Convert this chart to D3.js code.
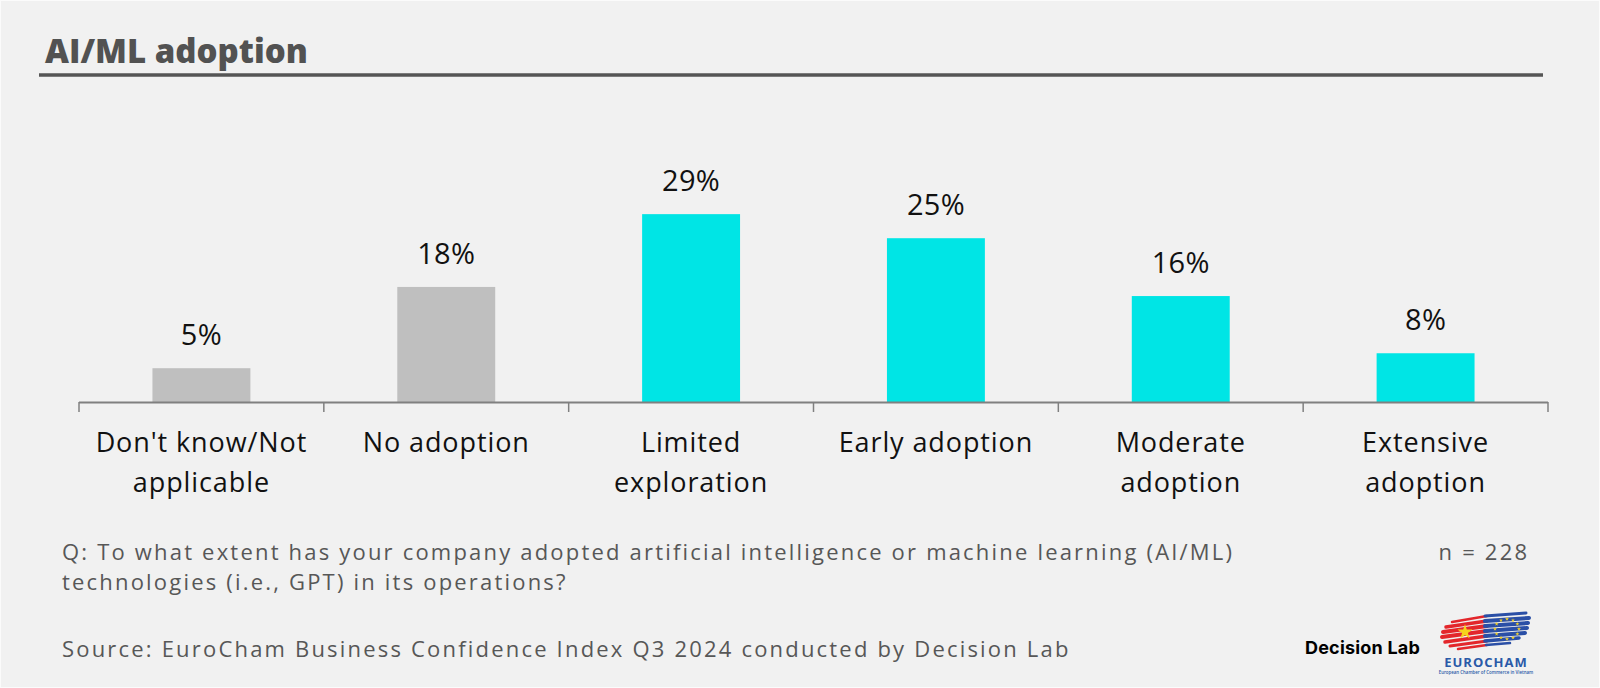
<!DOCTYPE html>
<html>
<head>
<meta charset="utf-8">
<script src="https://cdn.jsdelivr.net/npm/d3@7"></script>
<style>
  html, body { margin: 0; padding: 0; background: #f1f1f1; }
  svg { display: block; }
</style>
</head>
<body>
<svg id="chart" width="1600" height="688"></svg>
<script>
// ---- Data ----
const title = "AI/ML adoption";
const categories = [
  "Don't know/Not\napplicable",
  "No adoption",
  "Limited\nexploration",
  "Early adoption",
  "Moderate\nadoption",
  "Extensive\nadoption"
];
const values = [5.2, 17.7, 28.9, 25.2, 16.3, 7.5];
const valueLabels = ["5%", "18%", "29%", "25%", "16%", "8%"];
const groups = ["none", "none", "adopt", "adopt", "adopt", "adopt"];
const questionLines = [
  "Q: To what extent has your company adopted artificial intelligence or machine learning (AI/ML)",
  "technologies (i.e., GPT) in its operations?"
];
const sampleNote = "n = 228";
const sourceNote = "Source: EuroCham Business Confidence Index Q3 2024 conducted by Decision Lab";

// ---- Layout ----
const W = 1600, H = 688;
const svg = d3.select("#chart");
const FONT = "'Open Sans', 'DejaVu Sans', sans-serif";

svg.append("rect").attr("width", W).attr("height", H).attr("fill", "#f1f1f1");
svg.append("rect").attr("x", 0.5).attr("y", 0.5).attr("width", W - 1).attr("height", H - 1)
  .attr("fill", "none").attr("stroke", "#fbfbfb").attr("stroke-width", 1);

// Title
svg.append("text")
  .attr("x", 45).attr("y", 63)
  .attr("font-family", FONT).attr("font-weight", 800).attr("font-size", 33)
  .attr("fill", "#525252")
  .text(title);
svg.append("line")
  .attr("x1", 39).attr("x2", 1543).attr("y1", 75).attr("y2", 75)
  .attr("stroke", "#555555").attr("stroke-width", 3.5);

// Scales
const x = d3.scaleBand().domain(categories).range([79, 1548]).padding(0);
const baseY = 402;
const y = d3.scaleLinear().domain([0, 30]).range([baseY, baseY - 195]);
const color = d3.scaleOrdinal().domain(["none", "adopt"]).range(["#bfbfbf", "#00e5e5"]);
const barFrac = 0.4;

const data = categories.map((c, i) => ({ c, v: values[i], lab: valueLabels[i], g: groups[i] }));

// Bars
svg.append("g").selectAll("rect").data(data).join("rect")
  .attr("x", d => x(d.c) + x.bandwidth() * (1 - barFrac) / 2)
  .attr("width", x.bandwidth() * barFrac)
  .attr("y", d => y(d.v))
  .attr("height", d => y(0) - y(d.v))
  .attr("fill", d => color(d.g));

// Value labels
svg.append("g").selectAll("text").data(data).join("text")
  .attr("x", d => x(d.c) + x.bandwidth() / 2)
  .attr("y", d => y(d.v) - 23)
  .attr("text-anchor", "middle")
  .attr("font-family", FONT).attr("font-size", 29).attr("letter-spacing", 0.3).attr("fill", "#111111")
  .text(d => d.lab);

// Axis line + ticks (at band boundaries)
const axisG = svg.append("g");
axisG.append("line")
  .attr("x1", x.range()[0]).attr("x2", x.range()[1])
  .attr("y1", baseY + 0.5).attr("y2", baseY + 0.5)
  .attr("stroke", "#808080").attr("stroke-width", 2);
const tickXs = categories.map(c => x(c)).concat([x.range()[1]]);
axisG.selectAll("line.tick").data(tickXs).join("line")
  .attr("class", "tick")
  .attr("x1", d => d).attr("x2", d => d)
  .attr("y1", baseY).attr("y2", baseY + 10)
  .attr("stroke", "#808080").attr("stroke-width", 1.5);

// Category labels
const catG = svg.append("g").selectAll("text").data(data).join("text")
  .attr("x", d => x(d.c) + x.bandwidth() / 2)
  .attr("y", 452)
  .attr("text-anchor", "middle")
  .attr("font-family", FONT).attr("font-size", 27).attr("letter-spacing", 0.9).attr("fill", "#111111");
catG.each(function(d) {
  const t = d3.select(this);
  d.c.split("\n").forEach((line, i) => {
    t.append("tspan").attr("x", x(d.c) + x.bandwidth() / 2).attr("dy", i === 0 ? 0 : 40).text(line);
  });
});

// Notes
const notes = svg.append("g").attr("font-family", FONT).attr("font-size", 22).attr("fill", "#575757");
const probe = notes.append("text").attr("x", 0).attr("y", -100).text(questionLines[0]);
const natural = probe.node().getComputedTextLength();
probe.remove();
const ls = (1170 - natural) / (questionLines[0].length - 1);
notes.attr("letter-spacing", ls);
questionLines.forEach((l, i) => {
  notes.append("text").attr("x", 62).attr("y", 560 + i * 30).text(l);
});
notes.append("text").attr("x", 1527 + ls).attr("y", 560).attr("text-anchor", "end").text(sampleNote);
notes.append("text").attr("x", 62).attr("y", 657).text(sourceNote);

// Decision Lab logo text
svg.append("text").attr("x", 1305).attr("y", 654)
  .attr("font-family", "Inter, 'Liberation Sans', sans-serif").attr("font-weight", 700)
  .attr("font-size", 18).attr("fill", "#000").attr("letter-spacing", 0.2)
  .text("Decision Lab");

// EUROCHAM logo
const logo = svg.append("g");
const redStrokes = [
  [1452, 622, 1487, 616, 2.5],
  [1446, 627, 1487, 621, 3.5],
  [1443, 632, 1487, 626, 4],
  [1442, 637, 1487, 631, 4],
  [1445, 642, 1487, 636, 3.5],
  [1450, 646, 1487, 641, 3],
  [1458, 649, 1487, 645, 2.5]
];
redStrokes.forEach(s => {
  logo.append("line").attr("x1", s[0]).attr("y1", s[1]).attr("x2", s[2]).attr("y2", s[3])
    .attr("stroke", "#e3262b").attr("stroke-width", s[4]).attr("stroke-linecap", "round");
});
const blueStrokes = [
  [1485, 616, 1526, 613, 3],
  [1485, 621, 1529, 618, 4],
  [1485, 626, 1528, 623, 4],
  [1485, 631, 1527, 628, 4],
  [1485, 636, 1525, 633, 4],
  [1485, 641, 1519, 638, 3.5],
  [1486, 645, 1510, 643, 2.5]
];
blueStrokes.forEach(s => {
  logo.append("line").attr("x1", s[0]).attr("y1", s[1]).attr("x2", s[2]).attr("y2", s[3])
    .attr("stroke", "#2a4fa6").attr("stroke-width", s[4]).attr("stroke-linecap", "round");
});
const star = d3.symbol().type(d3.symbolStar).size(70);
logo.append("path").attr("d", star()).attr("transform", "translate(1465,632)").attr("fill", "#f6d21c");
d3.range(12).forEach(i => {
  const a = i / 12 * 2 * Math.PI;
  logo.append("path").attr("d", d3.symbol().type(d3.symbolStar).size(5)())
    .attr("transform", `translate(${1507 + 12 * Math.cos(a)},${629 + 10 * Math.sin(a)})`)
    .attr("fill", "#f2d02a");
});
logo.append("text").attr("x", 1486).attr("y", 667).attr("text-anchor", "middle")
  .attr("font-family", "'Open Sans', sans-serif").attr("font-weight", 700).attr("font-size", 13)
  .attr("fill", "#2a5aa8").attr("letter-spacing", 1).text("EUROCHAM");
logo.append("text").attr("x", 1486).attr("y", 673.5).attr("text-anchor", "middle")
  .attr("font-family", "'Open Sans', sans-serif").attr("font-weight", 600).attr("font-size", 4.4)
  .attr("fill", "#2a5aa8").text("European Chamber of Commerce in Vietnam");
</script>
</body>
</html>
